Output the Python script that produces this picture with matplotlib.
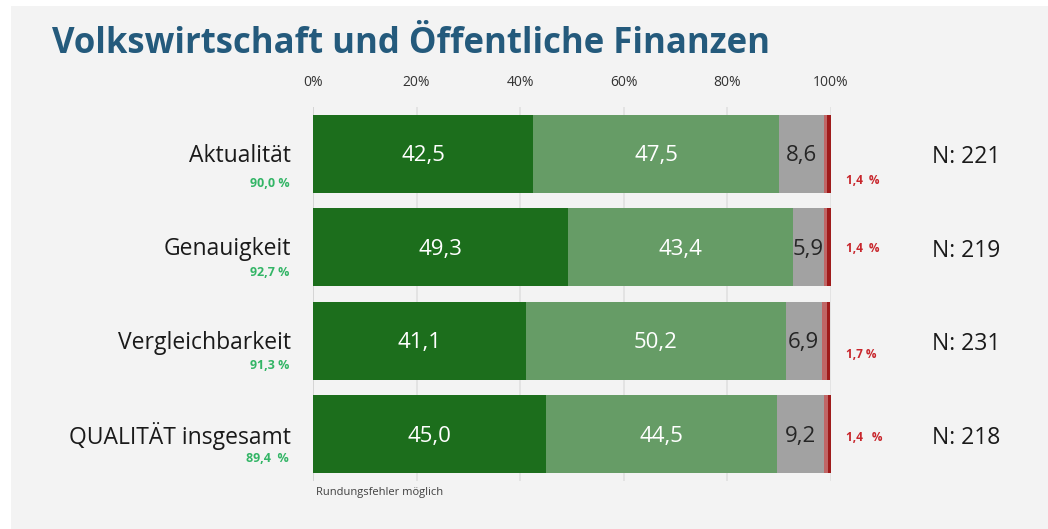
"""Stacked satisfaction bars: Volkswirtschaft und Öffentliche Finanzen."""

import matplotlib.pyplot as plt
import numpy as np
from matplotlib.patches import Rectangle

plt.rcParams["font.family"] = ["Open Sans", "DejaVu Sans"]

categories = ["Aktualität", "Genauigkeit", "Vergleichbarkeit", "QUALITÄT insgesamt"]
sehr_zufrieden = [42.5, 49.3, 41.1, 45.0]
eher_zufrieden = [47.5, 43.4, 50.2, 44.5]
weniger = [8.6, 5.9, 6.9, 9.2]
eher_unzufrieden = [0.6, 0.6, 1.1, 0.8]
gar_nicht = [0.8, 0.8, 0.6, 0.6]
zufrieden_labels = ["90,0 %", "92,7 %", "91,3 %", "89,4  %"]
unzufrieden_labels = ["1,4  %", "1,4  %", "1,7 %", "1,4   %"]
n_values = [221, 219, 231, 218]
xticks = [0, 20, 40, 60, 80, 100]

colors = ["#1c6e1c", "#669c66", "#a2a2a2", "#c06666", "#9e1b1b"]
text_colors = ["white", "white", "#262626", None, None]

fig = plt.figure(figsize=(10.48, 5.29), dpi=100)
fig.patch.set_facecolor("white")
fig.patches.append(
    Rectangle((11 / 1048, 0), 1, 1 - 6 / 529, transform=fig.transFigure,
              facecolor="#f3f3f3", edgecolor="none", zorder=-10)
)

ax = fig.add_axes([313 / 1048, 1 - 481 / 529, 518 / 1048, 374 / 529])
ax.set_facecolor("none")

y = np.arange(len(categories))
series = [sehr_zufrieden, eher_zufrieden, weniger, eher_unzufrieden, gar_nicht]
left = np.zeros(len(categories))
for vals, col, tcol in zip(series, colors, text_colors):
    vals = np.array(vals)
    ax.barh(y, vals, left=left, height=0.83, color=col, zorder=3)
    if tcol is not None:
        for yi, (l, v) in enumerate(zip(left, vals)):
            ax.text(l + v / 2, yi + 0.02, f"{v:.1f}".replace(".", ","),
                    ha="center", va="center", fontsize=16, color=tcol, zorder=4)
    left += vals

ax.set_xlim(0, 100)
ax.set_ylim(3.5, -0.5)
ax.set_xticks(xticks)
ax.set_xticklabels([f"{t}%" for t in xticks], fontsize=10, color="#333333")
ax.xaxis.tick_top()
ax.tick_params(axis="x", length=0, pad=12)
ax.set_yticks([])
for t in xticks:
    ax.axvline(t, color="#d0d0d0" if t == 0 else "#e0e0e0", lw=1.2, zorder=1)
for s in ax.spines.values():
    s.set_visible(False)

green_off = [0.32, 0.27, 0.26, 0.26]
red_off = [0.29, 0.01, 0.15, 0.03]
for yi, cat in enumerate(categories):
    ax.text(-4.2, yi + 0.02, cat, ha="right", va="center", fontsize=16.5,
            color="#1a1a1a")
    ax.text(-4.6, yi + green_off[yi], zufrieden_labels[yi], ha="right",
            va="center", fontsize=9, fontweight="bold", color="#33b566")
    ax.text(102.8, yi + red_off[yi], unzufrieden_labels[yi], ha="left",
            va="center", fontsize=8.5, fontweight="bold", color="#c8262c")
    ax.text(119.5, yi + 0.04, f"N: {n_values[yi]}", ha="left", va="center",
            fontsize=16.5, color="#1a1a1a")

fig.text(52 / 1048, 1 - 44 / 529, "Volkswirtschaft und Öffentliche Finanzen",
         ha="left", va="center", fontsize=25, fontweight="bold",
         color="#245a7c")
fig.text(316 / 1048, 1 - 493 / 529, "Rundungsfehler möglich", ha="left",
         va="center", fontsize=8, color="#404040")

fig.savefig("out.png", dpi=100, facecolor=fig.get_facecolor())
